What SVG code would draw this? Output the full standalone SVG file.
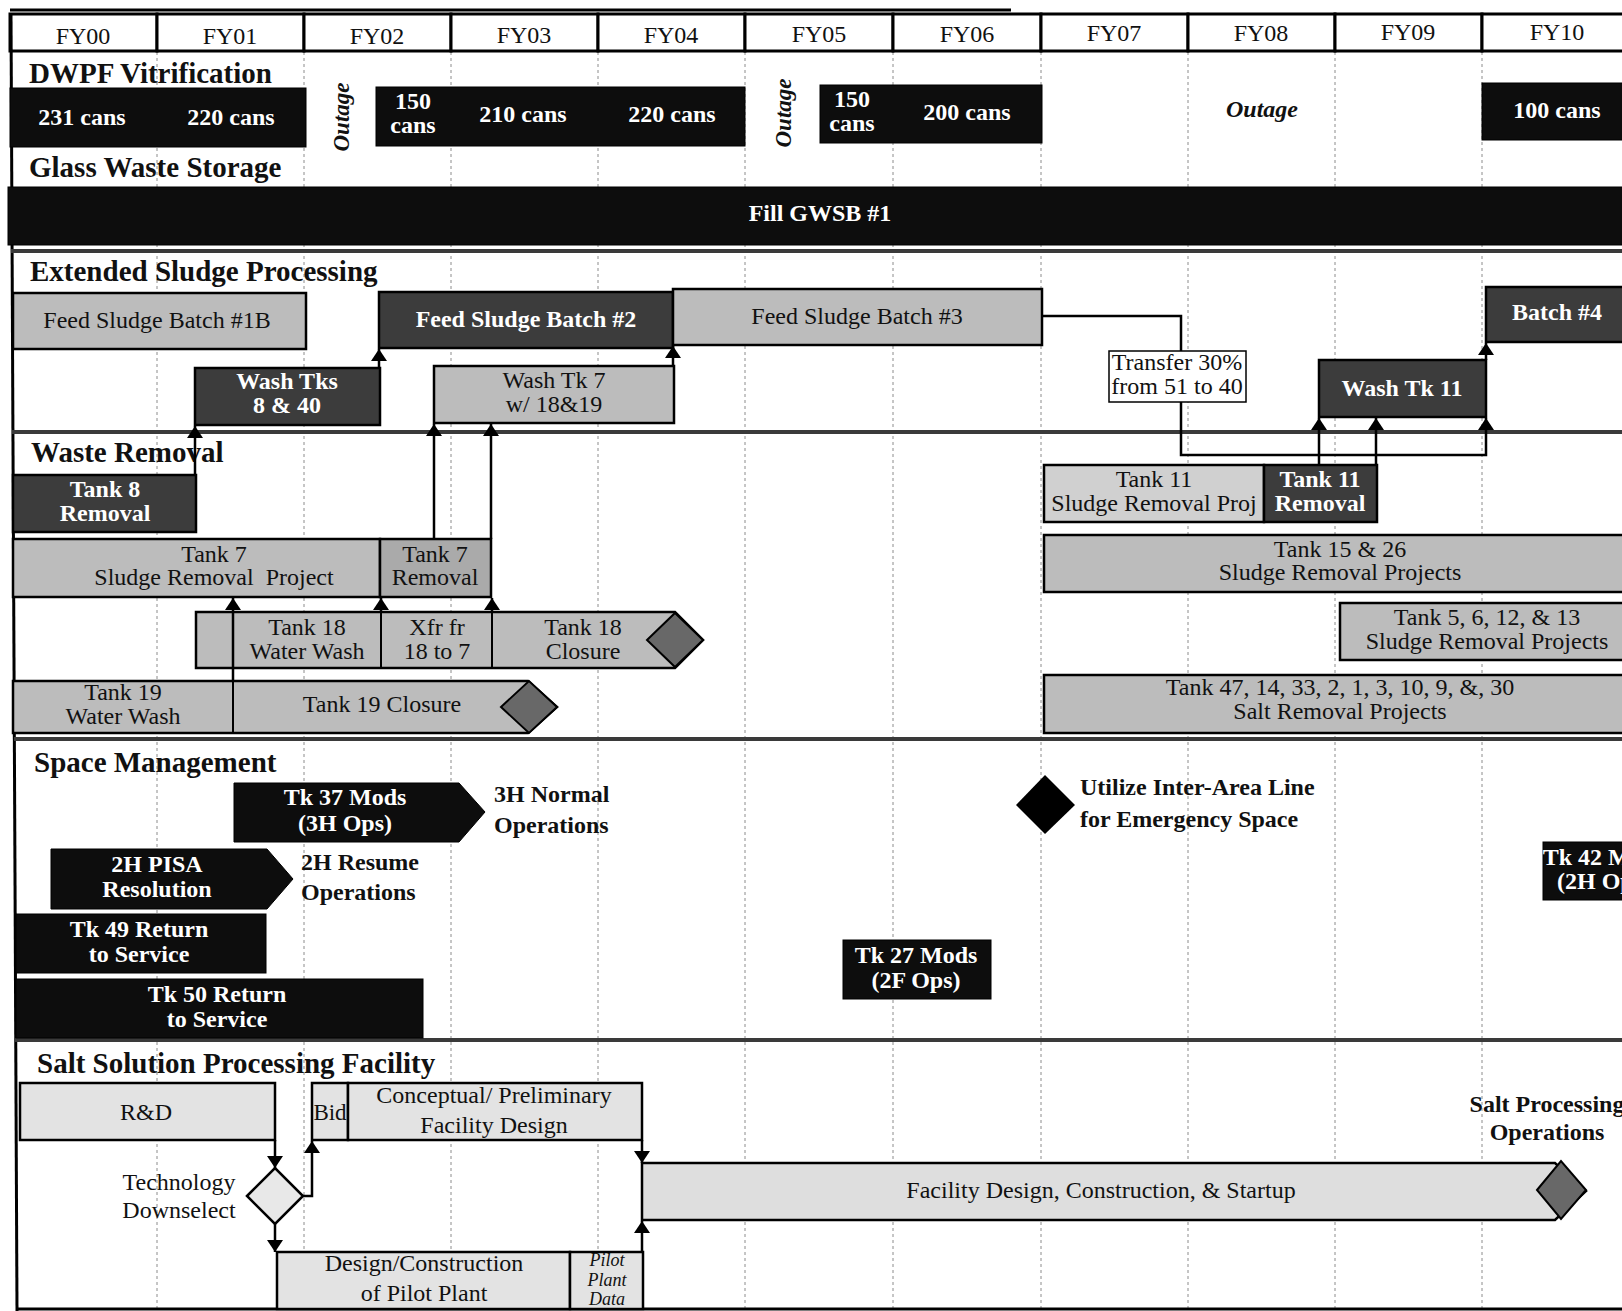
<svg xmlns="http://www.w3.org/2000/svg" width="1622" height="1311" viewBox="0 0 1622 1311">
<defs>
<style>
text{font-family:"Liberation Serif","Times New Roman",serif;font-size:24px;fill:#111;text-anchor:middle}
.w{fill:#fff;font-weight:bold}
.b{font-weight:bold}
.sec{font-weight:bold;font-size:29px;text-anchor:start}
.st{text-anchor:start}
.oi{font-weight:bold;font-style:italic;font-size:23px}
.it{font-style:italic;font-size:18px}
.hdr{fill:#fff;stroke:#000;stroke-width:3}
.light{fill:#bcbcbc;stroke:#000;stroke-width:2.5}
.lighter{fill:#d0d0d0;stroke:#000;stroke-width:2.5}
.mid{fill:#aaaaaa;stroke:#000;stroke-width:2.5}
.pale{fill:#e3e3e3;stroke:#000;stroke-width:2.5}
.dark{fill:#3c3c3c;stroke:#000;stroke-width:2.5}
.blk{fill:#0d0d0d;stroke:#000;stroke-width:1}
.dia{fill:#686868;stroke:#000;stroke-width:2}
.grid{stroke:#8c8c8c;stroke-width:1;stroke-dasharray:3 3}
.sep{stroke:#3a3a3a;stroke-width:4}
.conn{stroke:#000;stroke-width:2.5;fill:none}
.div{stroke:#000;stroke-width:2}
</style>
<marker id="arr" viewBox="0 0 12 16" refX="12" refY="8" markerWidth="12" markerHeight="16" markerUnits="userSpaceOnUse" orient="auto">
<path d="M0,0 L12,8 L0,16 z" fill="#000"/>
</marker>
</defs>
<rect x="0" y="0" width="1622" height="1311" fill="#fff"/>

<g id="grid">
<line class="grid" x1="157" y1="52" x2="157" y2="1311"/>
<line class="grid" x1="304" y1="52" x2="304" y2="1311"/>
<line class="grid" x1="451" y1="52" x2="451" y2="1311"/>
<line class="grid" x1="598" y1="52" x2="598" y2="1311"/>
<line class="grid" x1="745" y1="52" x2="745" y2="1311"/>
<line class="grid" x1="893" y1="52" x2="893" y2="1311"/>
<line class="grid" x1="1041" y1="52" x2="1041" y2="1311"/>
<line class="grid" x1="1188" y1="52" x2="1188" y2="1311"/>
<line class="grid" x1="1335" y1="52" x2="1335" y2="1311"/>
<line class="grid" x1="1482" y1="52" x2="1482" y2="1311"/>
</g>

<g id="header">
<line x1="10" y1="10" x2="1011" y2="10" stroke="#000" stroke-width="3"/>
<rect class="hdr" x="10" y="14" width="147" height="37"/>
<rect class="hdr" x="157" y="14" width="147" height="37"/>
<rect class="hdr" x="304" y="14" width="147" height="37"/>
<rect class="hdr" x="451" y="14" width="147" height="37"/>
<rect class="hdr" x="598" y="14" width="147" height="37"/>
<rect class="hdr" x="745" y="14" width="148" height="37"/>
<rect class="hdr" x="893" y="14" width="148" height="37"/>
<rect class="hdr" x="1041" y="14" width="147" height="37"/>
<rect class="hdr" x="1188" y="14" width="147" height="37"/>
<rect class="hdr" x="1335" y="14" width="147" height="37"/>
<rect class="hdr" x="1482" y="14" width="150" height="37"/>
<text x="83" y="44">FY00</text>
<text x="230" y="44">FY01</text>
<text x="377" y="44">FY02</text>
<text x="524" y="43">FY03</text>
<text x="671" y="43">FY04</text>
<text x="819" y="42">FY05</text>
<text x="967" y="42">FY06</text>
<text x="1114" y="41">FY07</text>
<text x="1261" y="41">FY08</text>
<text x="1408" y="40">FY09</text>
<text x="1557" y="40">FY10</text>
</g>

<g id="frame">
<line x1="11" y1="14" x2="17" y2="1311" stroke="#000" stroke-width="3"/>
<line class="sep" x1="11" y1="251" x2="1622" y2="251"/>
<line class="sep" x1="12" y1="432" x2="1622" y2="432"/>
<line class="sep" x1="14" y1="739" x2="1622" y2="739"/>
<line class="sep" x1="15" y1="1040" x2="1622" y2="1040"/>
<line x1="18" y1="1309" x2="1622" y2="1309" stroke="#000" stroke-width="3"/>
</g>

<g id="section-labels">
<text class="sec" x="29" y="83">DWPF Vitrification</text>
<text class="sec" x="29" y="177">Glass Waste Storage</text>
<text class="sec" x="30" y="281">Extended Sludge Processing</text>
<text class="sec" x="31" y="462">Waste Removal</text>
<text class="sec" x="34" y="772">Space Management</text>
<text class="sec" x="37" y="1073">Salt Solution Processing Facility</text>
</g>

<g id="dwpf-1">
<rect class="blk" x="10" y="88" width="296" height="59"/>
<text class="w" x="82" y="125">231 cans</text>
<text class="w" x="231" y="125">220 cans</text>
</g>
<g id="outage-1"><text class="oi" transform="translate(349,117) rotate(-90)">Outage</text></g>
<g id="dwpf-2">
<rect class="blk" x="376" y="87" width="369" height="59"/>
<text class="w" x="413" y="109">150</text>
<text class="w" x="413" y="133">cans</text>
<text class="w" x="523" y="122">210 cans</text>
<text class="w" x="672" y="122">220 cans</text>
</g>
<g id="outage-2"><text class="oi" transform="translate(791,113) rotate(-90)">Outage</text></g>
<g id="dwpf-3">
<rect class="blk" x="820" y="85" width="222" height="58"/>
<text class="w" x="852" y="107">150</text>
<text class="w" x="852" y="131">cans</text>
<text class="w" x="967" y="120">200 cans</text>
</g>
<g id="outage-3"><text class="oi" x="1262" y="117" style="font-size:24px">Outage</text></g>
<g id="dwpf-4">
<rect class="blk" x="1482" y="83" width="150" height="57"/>
<text class="w" x="1557" y="118">100 cans</text>
</g>

<g id="fill-gwsb">
<rect class="blk" x="8" y="187" width="1624" height="58" fill="#181818"/>
<text class="w" x="820" y="221">Fill GWSB #1</text>
</g>

<g id="fsb1b"><rect class="light" x="13" y="293" width="293" height="56"/><text x="157" y="328">Feed Sludge Batch #1B</text></g>
<g id="fsb2"><rect class="dark" x="379" y="292" width="294" height="56"/><text class="w" x="526" y="327">Feed Sludge Batch #2</text></g>
<g id="fsb3"><rect class="light" x="673" y="289" width="369" height="56"/><text x="857" y="324">Feed Sludge Batch #3</text></g>
<g id="batch4"><rect class="dark" x="1486" y="287" width="146" height="55"/><text class="w" x="1557" y="320">Batch #4</text></g>
<g id="wash-8-40"><rect class="dark" x="195" y="368" width="185" height="57"/><text class="w" x="287" y="389">Wash Tks</text><text class="w" x="287" y="413">8 &amp; 40</text></g>
<g id="wash-7"><rect class="light" x="434" y="366" width="240" height="57"/><text x="554" y="388">Wash Tk 7</text><text x="554" y="412">w/ 18&amp;19</text></g>
<g id="transfer"><rect x="1109" y="351" width="137" height="51" fill="#fff" stroke="#000" stroke-width="1.5"/><text x="1177" y="370">Transfer 30%</text><text x="1177" y="394">from 51 to 40</text></g>
<g id="wash-11"><rect class="dark" x="1319" y="360" width="167" height="57"/><text class="w" x="1402" y="396">Wash Tk 11</text></g>

<g id="tank8"><rect class="dark" x="13" y="475" width="183" height="57"/><text class="w" x="105" y="497">Tank 8</text><text class="w" x="105" y="521">Removal</text></g>
<g id="tank7-srp"><rect class="light" x="13" y="539" width="367" height="58"/><text x="214" y="562">Tank 7</text><text x="214" y="585" xml:space="preserve">Sludge Removal  Project</text></g>
<g id="tank7-rem"><rect class="mid" x="380" y="539" width="111" height="58"/><text x="435" y="562">Tank 7</text><text x="435" y="585">Removal</text></g>
<g id="tank18">
<polygon class="light" points="196,612 675,612 703,640 675,668 196,668"/>
<line class="div" x1="381" y1="612" x2="381" y2="668"/>
<line class="div" x1="492" y1="612" x2="492" y2="668"/>
<polygon class="dia" points="647,640 675,613 703,640 675,667"/>
<text x="307" y="635">Tank 18</text><text x="307" y="659">Water Wash</text>
<text x="437" y="635">Xfr fr</text><text x="437" y="659">18 to 7</text>
<text x="583" y="635">Tank 18</text><text x="583" y="659">Closure</text>
</g>
<g id="tank19">
<polygon class="light" points="13,681 528,681 557,707 528,733 13,733"/>
<line class="div" x1="233" y1="681" x2="233" y2="733"/>
<polygon class="dia" points="501,707 529,681 557,707 529,733"/>
<text x="123" y="700">Tank 19</text><text x="123" y="724">Water Wash</text>
<text x="382" y="712">Tank 19 Closure</text>
</g>

<g id="tank11-srp"><rect class="lighter" x="1044" y="465" width="220" height="57"/><text x="1154" y="487">Tank 11</text><text x="1154" y="511">Sludge Removal Proj</text></g>
<g id="tank11-rem"><rect class="dark" x="1264" y="465" width="113" height="57"/><text class="w" x="1320" y="487">Tank 11</text><text class="w" x="1320" y="511">Removal</text></g>
<g id="tank15-26"><rect class="light" x="1044" y="535" width="590" height="57"/><text x="1340" y="557">Tank 15 &amp; 26</text><text x="1340" y="580">Sludge Removal Projects</text></g>
<g id="tank5-13"><rect class="light" x="1340" y="603" width="294" height="57"/><text x="1487" y="625">Tank 5, 6, 12, &amp; 13</text><text x="1487" y="649">Sludge Removal Projects</text></g>
<g id="tank47"><rect class="light" x="1044" y="675" width="590" height="58"/><text x="1340" y="695">Tank 47, 14, 33, 2, 1, 3, 10, 9, &amp;, 30</text><text x="1340" y="719">Salt Removal Projects</text></g>

<g id="tk37"><polygon class="blk" points="234,783 459,783 485,812 459,842 234,842"/><text class="w" x="345" y="805">Tk 37 Mods</text><text class="w" x="345" y="831">(3H Ops)</text></g>
<g id="note-3h"><text class="b st" x="494" y="802">3H Normal</text><text class="b st" x="494" y="833">Operations</text></g>
<g id="pisa"><polygon class="blk" points="51,849 267,849 293,879 267,909 51,909"/><text class="w" x="157" y="872">2H PISA</text><text class="w" x="157" y="897">Resolution</text></g>
<g id="note-2h"><text class="b st" x="301" y="870">2H Resume</text><text class="b st" x="301" y="900">Operations</text></g>
<g id="tk49"><rect class="blk" x="16" y="914" width="250" height="59"/><text class="w" x="139" y="937">Tk 49 Return</text><text class="w" x="139" y="962">to Service</text></g>
<g id="tk50"><rect class="blk" x="16" y="979" width="407" height="59"/><text class="w" x="217" y="1002">Tk 50 Return</text><text class="w" x="217" y="1027">to Service</text></g>
<g id="inter-area"><polygon points="1016,805 1045,775 1075,805 1045,834" fill="#000"/><text class="b st" x="1080" y="795">Utilize Inter-Area Line</text><text class="b st" x="1080" y="827">for Emergency Space</text></g>
<g id="tk27"><rect class="blk" x="843" y="940" width="148" height="59"/><text class="w" x="916" y="963">Tk 27 Mods</text><text class="w" x="916" y="988">(2F Ops)</text></g>
<g id="tk42"><rect class="blk" x="1543" y="842" width="140" height="58"/><text class="w" x="1604" y="865">Tk 42 Mods</text><text class="w" x="1604" y="889">(2H Ops)</text></g>

<g id="rnd"><rect class="pale" x="20" y="1083" width="255" height="57"/><text x="146" y="1120">R&amp;D</text></g>
<g id="downselect"><polygon points="247,1196 275,1168 303,1196 275,1224" fill="#e8e8e8" stroke="#000" stroke-width="2.5"/><text x="179" y="1190">Technology</text><text x="179" y="1218">Downselect</text></g>
<g id="bid"><rect class="pale" x="312" y="1083" width="36" height="57"/><text x="330" y="1120" style="font-size:23px">Bid</text></g>
<g id="conceptual"><rect class="pale" x="348" y="1083" width="294" height="57"/><text x="494" y="1103">Conceptual/ Preliminary</text><text x="494" y="1133">Facility Design</text></g>
<g id="pilot-design"><rect class="pale" x="277" y="1252" width="293" height="57"/><text x="424" y="1271">Design/Construction</text><text x="424" y="1301">of Pilot Plant</text></g>
<g id="pilot-data"><rect class="pale" x="570" y="1252" width="73" height="57"/><text class="it" x="607" y="1266">Pilot</text><text class="it" x="607" y="1286">Plant</text><text class="it" x="607" y="1305">Data</text></g>
<g id="facility"><polygon points="642,1163 1555,1163 1586,1191 1555,1220 642,1220" fill="#dedede" stroke="#000" stroke-width="2.5"/><polygon class="dia" points="1537,1190 1561,1161 1586,1190 1561,1219"/><text x="1101" y="1198">Facility Design, Construction, &amp; Startup</text></g>
<g id="salt-ops"><text class="b" x="1547" y="1112">Salt Processing</text><text class="b" x="1547" y="1140">Operations</text></g>

<g id="connectors">
<line class="conn" x1="195" y1="475" x2="195" y2="426" marker-end="url(#arr)"/>
<line class="conn" x1="379" y1="368" x2="379" y2="349" marker-end="url(#arr)"/>
<line class="conn" x1="434" y1="539" x2="434" y2="424" marker-end="url(#arr)"/>
<line class="conn" x1="491" y1="539" x2="491" y2="424" marker-end="url(#arr)"/>
<line class="conn" x1="673" y1="366" x2="673" y2="346" marker-end="url(#arr)"/>
<line class="conn" x1="233" y1="681" x2="233" y2="598" marker-end="url(#arr)"/>
<line class="conn" x1="381" y1="612" x2="381" y2="598" marker-end="url(#arr)"/>
<line class="conn" x1="492" y1="612" x2="492" y2="598" marker-end="url(#arr)"/>
<polyline class="conn" points="1042,316 1181,316 1181,351"/>
<polyline class="conn" points="1181,402 1181,455 1486,455 1486,418" marker-end="url(#arr)"/>
<line class="conn" x1="1319" y1="465" x2="1319" y2="418" marker-end="url(#arr)"/>
<line class="conn" x1="1376" y1="465" x2="1376" y2="418" marker-end="url(#arr)"/>
<line class="conn" x1="1486" y1="360" x2="1486" y2="343" marker-end="url(#arr)"/>
<line class="conn" x1="275" y1="1140" x2="275" y2="1168" marker-end="url(#arr)"/>
<polyline class="conn" points="303,1196 312,1196 312,1141" marker-end="url(#arr)"/>
<line class="conn" x1="275" y1="1224" x2="275" y2="1252" marker-end="url(#arr)"/>
<line class="conn" x1="642" y1="1140" x2="642" y2="1163" marker-end="url(#arr)"/>
<line class="conn" x1="642" y1="1252" x2="642" y2="1221" marker-end="url(#arr)"/>
</g>
</svg>
